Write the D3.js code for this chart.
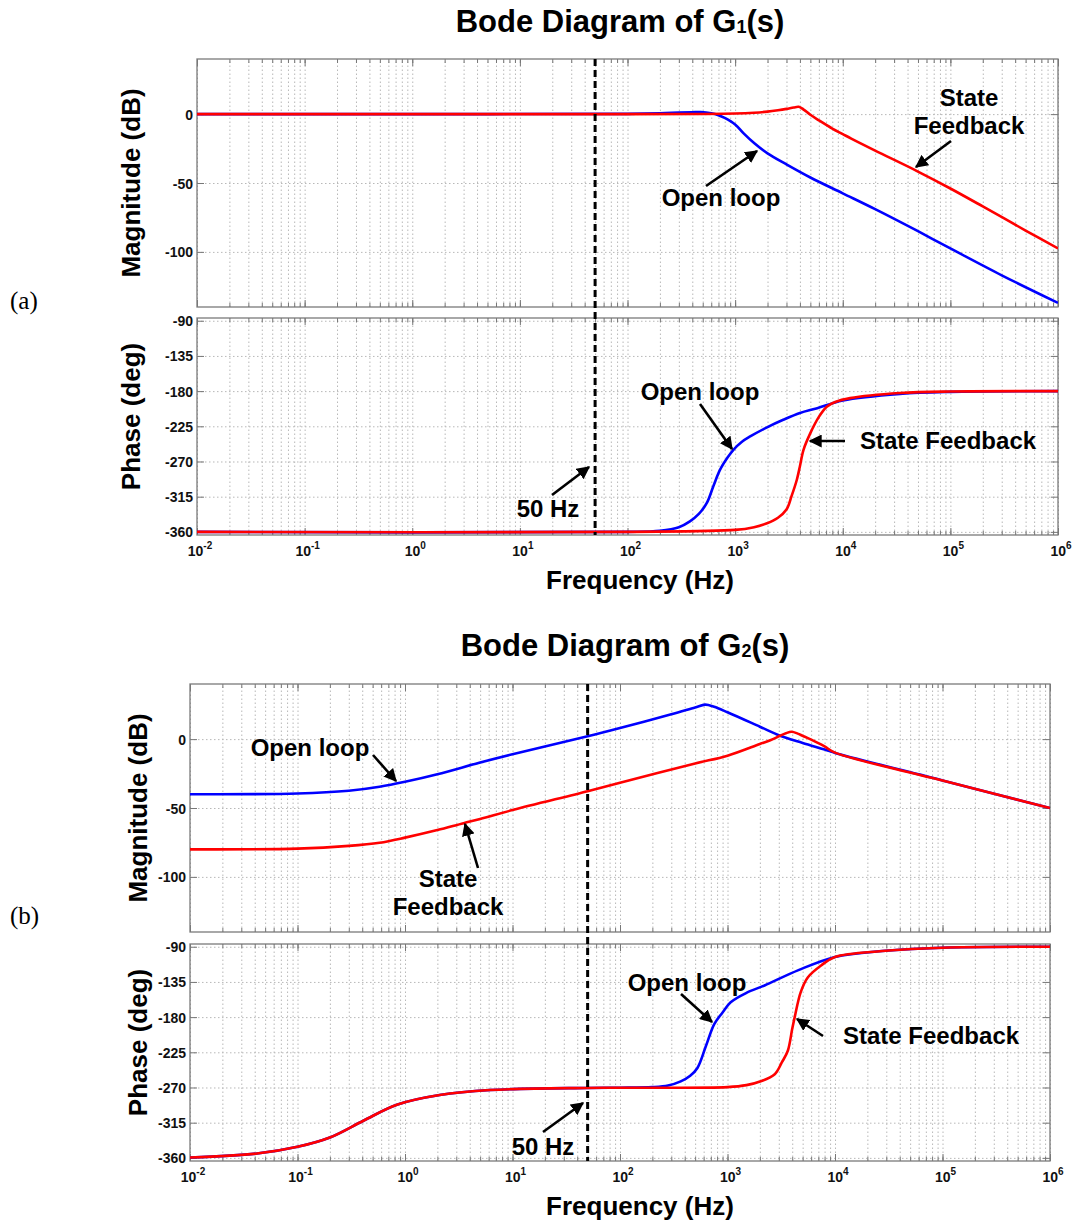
<!DOCTYPE html>
<html>
<head>
<meta charset="utf-8">
<script src="https://cdn.jsdelivr.net/npm/d3@7"></script>
<style>
  body { margin: 0; background: #fff; }
  text { font-family: "Liberation Sans", Arial, sans-serif; }
  .grid line { stroke: #b8b8b8; stroke-width: 1; stroke-dasharray: 1.5,2.5; }
  .grid path, .ticks path, .ylab path { display: none; }
  .ticks line { stroke: #777; stroke-width: 1; }
  .ylab text { font-size: 14px; font-weight: bold; fill: #111; }
</style>
</head>
<body>
<svg id="chart" width="1073" height="1223"></svg>
<script>
// axis ticks
var xTickExps = [-2, -1, 0, 1, 2, 3, 4, 5, 6];
var magTicks = [-100, -50, 0];
var phaseTicks = [-360, -315, -270, -225, -180, -135, -90];

// G1(s) magnitude (dB)
var g1MagOpenF = [0.01, 1, 100, 200, 300, 400, 480, 600, 700, 800, 1000, 1200, 1500, 2000, 3000, 5000, 1e4, 2e4, 5e4, 1e5, 3e5, 1e6];
var g1MagOpen  = [0, 0, 0.2, 0.6, 1.1, 1.4, 1.5, 0.6, -0.8, -2.8, -7.5, -14, -21, -28.5, -36.5, -46, -57.5, -69, -85, -97.5, -117, -137];
var g1MagSfF = [0.01, 100, 500, 1000, 1500, 2000, 2500, 3000, 3500, 3900, 4300, 5000, 6000, 8000, 1e4, 1.2e4, 2e4, 5e4, 1e5, 2e5, 5e5, 1e6];
var g1MagSf  = [0, 0, 0.1, 0.4, 1.0, 1.8, 2.8, 3.8, 4.8, 5.3, 3.5, -0.5, -4.5, -10.5, -14.5, -17.8, -26.5, -41.7, -54, -67, -84.5, -97.5];

// G1(s) phase (deg)
var g1PhOpenF = [0.01, 100, 200, 300, 380, 460, 546, 630, 725, 850, 964, 1150, 1380, 2000, 2800, 4000, 5800, 1e4, 3.4e4, 1e5, 1e6];
var g1PhOpen  = [-360, -360, -358.5, -354, -346.5, -337, -323, -301, -280.5, -265, -255, -245, -238, -226, -216.7, -208, -201.8, -192, -183.6, -181, -180];
var g1PhSfF = [0.01, 100, 1000, 1500, 1950, 2500, 3000, 3350, 3750, 4000, 4320, 5000, 6000, 7100, 8500, 1.17e4, 3.4e4, 1e5, 1e6];
var g1PhSf  = [-360, -360, -357.5, -354, -349.4, -342, -331.5, -314, -293, -276, -255, -233.7, -213, -200, -194, -189, -182.5, -180.5, -180];

// G2(s) magnitude (dB)
var g2MagOpenF = [0.01, 0.1, 0.3, 0.58, 1, 2, 5, 10, 50, 100, 300, 500, 620, 750, 1000, 2000, 3080, 5000, 8900, 1e4, 1e5, 1e6];
var g2MagOpen  = [-40, -39.5, -37.5, -34.6, -31, -25.5, -17, -11, 2, 8, 18, 23, 25, 23.5, 19.5, 9, 2.4, -2.8, -8.6, -10, -30, -50];
var g2MagSfF = [0.01, 0.1, 0.3, 0.58, 1, 2, 3.5, 5, 10, 50, 100, 500, 1000, 2000, 2500, 3080, 3500, 3950, 4500, 5000, 6000, 8000, 1e4, 1e5, 1e6];
var g2MagSf  = [-80, -79.5, -77.5, -75.2, -71.5, -66, -61, -58, -51.5, -37.8, -31.6, -17.7, -12, -3.5, -0.8, 2.4, 4.3, 5.3, 4, 2.4, -0.4, -5.3, -9.8, -30, -50];

// G2(s) phase (deg)
var g2PhOpenF = [0.01, 0.042, 0.1, 0.2, 0.41, 0.84, 2.1, 6.2, 49, 100, 200, 280, 367, 450, 525, 630, 753, 900, 1070, 1500, 2210, 4570, 1e4, 2.75e4, 1.15e5, 1e6];
var g2PhOpen  = [-359.5, -354.4, -345.8, -333.9, -312.5, -292, -279.6, -273.2, -270.6, -270.3, -269.5, -267.5, -262.2, -255, -245, -217, -189, -174, -161, -149, -139.5, -119.9, -103, -95.5, -91, -90];
var g2PhSfF = [0.01, 0.042, 0.1, 0.2, 0.41, 0.84, 2.1, 6.2, 49, 100, 1000, 1500, 2040, 2750, 3200, 3640, 4000, 4220, 4800, 5600, 7500, 1e4, 2.75e4, 1.15e5, 1e6];
var g2PhSf  = [-359.5, -354.4, -345.8, -333.9, -312.5, -292, -279.6, -273.2, -270.6, -270.3, -269.5, -267, -262, -253, -238, -223, -195, -180, -148, -129, -113.5, -103, -95.5, -91, -90];

var magDomain = [-140, 40];
var phaseDomain = [-364, -86.5];
var blue = "#0000ff", red = "#ff0000";

var svg = d3.select("#chart");

svg.append("defs").append("marker")
  .attr("id", "arrow")
  .attr("viewBox", "0 0 10 10")
  .attr("refX", 9).attr("refY", 5)
  .attr("markerWidth", 5).attr("markerHeight", 5)
  .attr("markerUnits", "strokeWidth")
  .attr("orient", "auto")
  .append("path")
  .attr("d", "M0,0L10,5L0,10z")
  .attr("fill", "#000");

// all minor + major grid frequencies
var minorFreqs = [];
for (var e = -2; e < 6; e++) {
  for (var k = 1; k < 10; k++) minorFreqs.push(k * Math.pow(10, e));
}
minorFreqs.push(1e6);
var decadeFreqs = xTickExps.map(function(e) { return Math.pow(10, e); });

var panelCount = 0;

function drawPanel(x, y, top, bottom, left, right, yTicks, series) {
  var g = svg.append("g");
  var h = bottom - top, w = right - left;
  var id = "clip" + (panelCount++);

  g.append("clipPath").attr("id", id)
    .append("rect").attr("x", left).attr("y", top).attr("width", w).attr("height", h);

  // grid
  g.append("g").attr("class", "grid")
    .attr("transform", `translate(0, ${bottom})`)
    .call(d3.axisBottom(x).tickValues(minorFreqs).tickSize(-h).tickFormat(""));
  g.append("g").attr("class", "grid")
    .attr("transform", `translate(${left}, 0)`)
    .call(d3.axisLeft(y).tickValues(yTicks).tickSize(-w).tickFormat(""));

  // inner tick marks (matlab style)
  g.append("g").attr("class", "ticks").attr("transform", `translate(0, ${bottom})`)
    .call(d3.axisTop(x).tickValues(minorFreqs).tickSize(4).tickFormat(""));
  g.append("g").attr("class", "ticks").attr("transform", `translate(0, ${bottom})`)
    .call(d3.axisTop(x).tickValues(decadeFreqs).tickSize(7).tickFormat(""));
  g.append("g").attr("class", "ticks").attr("transform", `translate(0, ${top})`)
    .call(d3.axisBottom(x).tickValues(minorFreqs).tickSize(4).tickFormat(""));
  g.append("g").attr("class", "ticks").attr("transform", `translate(0, ${top})`)
    .call(d3.axisBottom(x).tickValues(decadeFreqs).tickSize(7).tickFormat(""));
  g.append("g").attr("class", "ticks").attr("transform", `translate(${left}, 0)`)
    .call(d3.axisRight(y).tickValues(yTicks).tickSize(7).tickFormat(""));
  g.append("g").attr("class", "ticks").attr("transform", `translate(${right}, 0)`)
    .call(d3.axisLeft(y).tickValues(yTicks).tickSize(7).tickFormat(""));

  // y tick labels, plain hyphen minus like matlab
  g.append("g").attr("class", "ylab").attr("transform", `translate(${left}, 0)`)
    .call(d3.axisLeft(y).tickValues(yTicks).tickSize(0).tickPadding(4).tickFormat(d => String(d)))
    .selectAll("text").attr("dy", "0.36em");

  // frame
  g.append("rect")
    .attr("x", left).attr("y", top).attr("width", w).attr("height", h)
    .attr("fill", "none").attr("stroke", "#7a7a7a").attr("stroke-width", 1.3);

  // curves
  var line = d3.line()
    .x(d => x(d[0]))
    .y(d => y(d[1]))
    .curve(d3.curveCatmullRom.alpha(0.5));

  series.forEach(function(s) {
    g.append("path")
      .datum(d3.zip(s.f, s.v))
      .attr("clip-path", `url(#${id})`)
      .attr("d", line)
      .attr("fill", "none")
      .attr("stroke", s.color)
      .attr("stroke-width", 2.6)
      .attr("stroke-linejoin", "round");
  });
}

function arrow(x1, y1, x2, y2) {
  svg.append("line")
    .attr("x1", x1).attr("y1", y1).attr("x2", x2).attr("y2", y2)
    .attr("stroke", "#000").attr("stroke-width", 2.6)
    .attr("marker-end", "url(#arrow)");
}

function label(txt, x, y, anchor) {
  svg.append("text")
    .attr("x", x).attr("y", y)
    .attr("text-anchor", anchor || "middle")
    .attr("font-size", 24).attr("font-weight", "bold").attr("fill", "#000")
    .text(txt);
}

function drawBode(fig) {
  var x = d3.scaleLog().domain([1e-2, 1e6]).range([fig.left, fig.right]);
  var yMag = d3.scaleLinear().domain(magDomain).range([fig.magBottom, fig.magTop]);
  var yPh = d3.scaleLinear().domain(phaseDomain).range([fig.phBottom, fig.phTop]);

  drawPanel(x, yMag, fig.magTop, fig.magBottom, fig.left, fig.right, magTicks, fig.mag);
  drawPanel(x, yPh, fig.phTop, fig.phBottom, fig.left, fig.right, phaseTicks, fig.phase);

  // x tick labels 10^n
  decadeFreqs.forEach(function(f, i) {
    var t = svg.append("text")
      .attr("x", x(f) + 3).attr("y", fig.phBottom + 21)
      .attr("text-anchor", "middle")
      .attr("font-size", 14).attr("font-weight", "bold").attr("fill", "#111");
    t.append("tspan").text("10");
    t.append("tspan").attr("dy", -7).attr("font-size", 10).text(xTickExps[i]);
  });

  // 50 Hz line
  svg.append("line")
    .attr("x1", x(50)).attr("x2", x(50))
    .attr("y1", fig.magTop).attr("y2", fig.phBottom)
    .attr("stroke", "#000").attr("stroke-width", 3)
    .attr("stroke-dasharray", "7,4");

  // title
  var t = svg.append("text")
    .attr("x", fig.titleX).attr("y", fig.titleY)
    .attr("text-anchor", "middle")
    .attr("font-size", 31).attr("font-weight", "bold");
  t.append("tspan").text("Bode Diagram of G");
  t.append("tspan").attr("font-size", 18).attr("dy", 1).text(fig.sub);
  t.append("tspan").attr("dy", -1).text("(s)");

  // axis titles
  svg.append("text")
    .attr("transform", `translate(${fig.yLabelX}, ${(fig.magTop + fig.magBottom) / 2}) rotate(-90)`)
    .attr("text-anchor", "middle").attr("font-size", 26).attr("font-weight", "bold")
    .text("Magnitude (dB)");
  svg.append("text")
    .attr("transform", `translate(${fig.yLabelX}, ${(fig.phTop + fig.phBottom) / 2 - 10}) rotate(-90)`)
    .attr("text-anchor", "middle").attr("font-size", 26).attr("font-weight", "bold")
    .text("Phase (deg)");
  svg.append("text")
    .attr("x", 640).attr("y", fig.phBottom + 54)
    .attr("text-anchor", "middle").attr("font-size", 26).attr("font-weight", "bold")
    .text("Frequency (Hz)");

  // (a) / (b)
  svg.append("text")
    .attr("x", 10).attr("y", fig.tagY)
    .style("font-family", "'Liberation Serif', 'Times New Roman', serif")
    .attr("font-size", 25)
    .text(fig.tag);
}

// figure (a)
drawBode({
  left: 197, right: 1058,
  magTop: 59, magBottom: 307, phTop: 318, phBottom: 535,
  titleX: 620, titleY: 32, sub: "1", yLabelX: 140, tag: "(a)", tagY: 309,
  mag: [{f: g1MagOpenF, v: g1MagOpen, color: blue}, {f: g1MagSfF, v: g1MagSf, color: red}],
  phase: [{f: g1PhOpenF, v: g1PhOpen, color: blue}, {f: g1PhSfF, v: g1PhSf, color: red}]
});

label("State", 969, 106);
label("Feedback", 969, 134);
arrow(951, 141, 916, 167);
label("Open loop", 721, 206);
arrow(706, 186, 757, 151);
label("Open loop", 700, 400);
arrow(700, 404, 732, 449);
label("State Feedback", 860, 449, "start");
arrow(845, 441, 810, 441);
label("50 Hz", 548, 517);
arrow(552, 495, 589, 467);

// figure (b)
drawBode({
  left: 190, right: 1050,
  magTop: 684, magBottom: 932, phTop: 944, phBottom: 1161,
  titleX: 625, titleY: 656, sub: "2", yLabelX: 147, tag: "(b)", tagY: 924,
  mag: [{f: g2MagOpenF, v: g2MagOpen, color: blue}, {f: g2MagSfF, v: g2MagSf, color: red}],
  phase: [{f: g2PhOpenF, v: g2PhOpen, color: blue}, {f: g2PhSfF, v: g2PhSf, color: red}]
});

label("Open loop", 310, 756);
arrow(373, 755, 396, 781);
label("State", 448, 887);
label("Feedback", 448, 915);
arrow(478, 868, 465, 824);
label("Open loop", 687, 991);
arrow(681, 994, 712, 1022);
label("State Feedback", 843, 1044, "start");
arrow(823, 1036, 797, 1019);
label("50 Hz", 543, 1155);
arrow(543, 1132, 583, 1103);
</script>
</body>
</html>
